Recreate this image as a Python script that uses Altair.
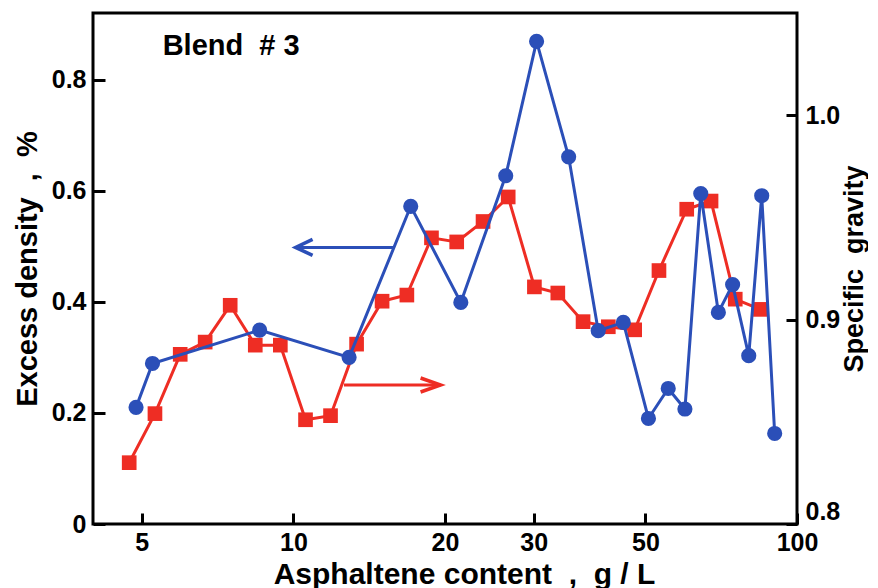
import altair as alt
import pandas as pd

# ---- data ----
blue_x = [4.87, 5.25, 8.57, 12.9, 17.1, 21.5, 26.4, 30.4, 35.2, 40.3, 45.2, 50.7,
          55.5, 59.9, 64.4, 69.8, 74.5, 80.2, 85.1, 90.3]
blue_y = [0.21, 0.289, 0.349, 0.30, 0.572, 0.399, 0.627, 0.869, 0.661, 0.348, 0.363, 0.19,
          0.244, 0.207, 0.595, 0.381, 0.431, 0.303, 0.591, 0.163]

red_x = [4.72, 5.31, 5.96, 6.68, 7.49, 8.40, 9.42, 10.57, 11.85, 13.35, 15.0, 16.8, 18.8,
         21.1, 23.8, 26.7, 30.1, 33.5, 37.6, 42.2, 47.6, 53.2, 60.4, 67.5, 75.4, 84.6]
red_y = [0.830, 0.854, 0.883, 0.889, 0.907, 0.8875, 0.8875, 0.851, 0.853, 0.888, 0.909, 0.912,
         0.940, 0.938, 0.948, 0.960, 0.916, 0.913, 0.899, 0.8965, 0.895, 0.924, 0.954, 0.958,
         0.910, 0.905]

x_ticks = [5, 10, 20, 30, 50, 100]
left_ticks = [0, 0.2, 0.4, 0.6, 0.8]
right_ticks = [0.8, 0.9, 1.0]

blue_arrow_from = [15.8]
blue_arrow_to = [10.1]
blue_arrow_y = [0.498]
red_arrow_from = [12.6]
red_arrow_to = [19.6]
red_arrow_y = [0.868]

label_text = ["Blend\u00a0 # 3"]
label_x = [5.5]
label_y = [0.861]

BLUE = "#2b4fb8"
RED = "#ee2d24"
FONT = "Liberation Sans"

x_title = "Asphaltene content\u00a0 ,\u00a0 g / L"
left_title = "Excess density\u00a0 ,\u00a0 %"
right_title = "Specific\u00a0 gravity"

df_blue = pd.DataFrame({"x": blue_x, "excess": blue_y})
df_red = pd.DataFrame({"x": red_x, "sg": red_y})
df_barrow = pd.DataFrame({"x": blue_arrow_from, "x2": blue_arrow_to, "excess": blue_arrow_y})
df_rarrow = pd.DataFrame({"x": red_arrow_from, "x2": red_arrow_to, "sg": red_arrow_y})
df_label = pd.DataFrame({"x": label_x, "excess": label_y, "t": label_text})

xscale = alt.Scale(type="log", domain=[4, 100], nice=False)
xaxis = alt.Axis(values=x_ticks, format="d", title=x_title, offset=-11, tickSize=11,
                 labelPadding=6, titlePadding=4, domain=False, grid=False, labelFlush=False,
                 titleFontSize=30, titleX=371)
yL = alt.Scale(domain=[0, 0.92], nice=False, zero=False)
yLaxis = alt.Axis(values=left_ticks, orient="left", title=left_title, offset=-12, tickSize=12,
                  labelPadding=7, titlePadding=9, domain=False, grid=False, labelFlush=False,
                  labelExpr="datum.value == 0 ? '0' : format(datum.value, '.1f')")
yR = alt.Scale(domain=[0.8, 1.05], nice=False, zero=False)
yRaxis = alt.Axis(values=right_ticks, orient="right", title=right_title, offset=-11, tickSize=11,
                  labelPadding=8, titlePadding=2, domain=False, grid=False, format=".1f",
                  labelFlush=True, titleAngle=270, titleBaseline="top", titleFontSize=27)

X = alt.X("x:Q", scale=xscale, axis=xaxis)
YL = alt.Y("excess:Q", scale=yL, axis=yLaxis)
YR = alt.Y("sg:Q", scale=yR, axis=yRaxis)

# blue (left axis)
blue_line = alt.Chart(df_blue).mark_line(color=BLUE, strokeWidth=3).encode(x=X, y=YL)
blue_pts = alt.Chart(df_blue).mark_point(shape="circle", filled=True, size=230, color=BLUE,
                                          opacity=1).encode(x=X, y=YL)
barrow_line = alt.Chart(df_barrow).mark_rule(color=BLUE, strokeWidth=3).encode(
    x=X, x2="x2:Q", y=YL)
barrow_head = alt.Chart(df_barrow).mark_point(
    shape="M1,-0.47L0,0L1,0.47", filled=False, size=1156, color=BLUE, strokeWidth=3.5,
    opacity=1).encode(x=alt.X("x2:Q", scale=xscale, axis=xaxis), y=YL)
label = alt.Chart(df_label).mark_text(align="left", baseline="middle", font=FONT, fontSize=29,
                                      fontWeight="bold", color="black").encode(
    x=X, y=YL, text="t:N")

# red (right axis)
red_line = alt.Chart(df_red).mark_line(color=RED, strokeWidth=3).encode(x=X, y=YR)
red_pts = alt.Chart(df_red).mark_square(size=215, color=RED, opacity=1).encode(x=X, y=YR)
rarrow_line = alt.Chart(df_rarrow).mark_rule(color=RED, strokeWidth=3).encode(
    x=X, x2="x2:Q", y=YR)
rarrow_head = alt.Chart(df_rarrow).mark_point(
    shape="M-1,-0.35L0,0L-1,0.35", filled=False, size=1600, color=RED, strokeWidth=3.5,
    opacity=1).encode(x=alt.X("x2:Q", scale=xscale, axis=xaxis), y=YR)

left = alt.layer(blue_line, blue_pts, barrow_line, barrow_head, label)
right = alt.layer(red_line, red_pts, rarrow_line, rarrow_head)

chart = (
    alt.layer(right, left)
    .resolve_scale(y="independent")
    .properties(width=704, height=511, padding={"left": 5, "top": 5, "right": 0, "bottom": 0},
                background="white")
    .configure_view(stroke="black", strokeWidth=3)
    .configure_axis(labelFont=FONT, labelFontSize=25, labelFontWeight="bold", labelColor="black",
                    titleFont=FONT, titleFontSize=29, titleFontWeight="bold", titleColor="black",
                    tickColor="black", tickWidth=3)
)

chart.save("out.html", embed_options={"renderer": "svg", "actions": False})
